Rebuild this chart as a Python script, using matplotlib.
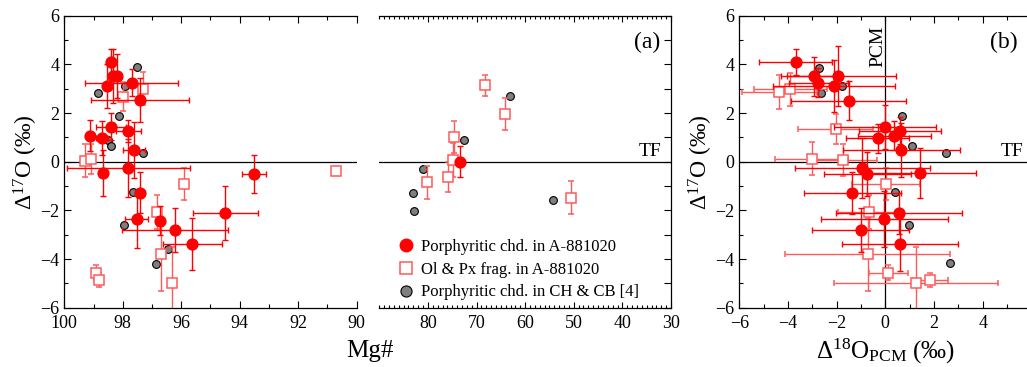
import numpy as np
import matplotlib
matplotlib.use("Agg")
import matplotlib.pyplot as plt
from matplotlib.ticker import MultipleLocator, FixedLocator, NullFormatter
from matplotlib.lines import Line2D

plt.rcParams['font.family'] = ['Liberation Serif', 'DejaVu Serif']
plt.rcParams['mathtext.fontset'] = 'custom'
plt.rcParams['mathtext.rm'] = 'Liberation Serif'
plt.rcParams['mathtext.it'] = 'Liberation Serif:italic'
plt.rcParams['axes.unicode_minus'] = True

# ---- panel (a): Mg# vs D17O ----
# porphyritic chondrules in A-881020
red_mg = [98.40, 98.32, 98.20, 98.53, 97.70, 97.41, 98.40, 99.12, 98.70, 97.81, 97.61,
          98.69, 97.81, 97.40, 97.53, 96.72, 96.21, 95.62, 94.50, 93.51, 73.4]
red_mg_err = [0.12, 0.15, 0.15, 0.12, 1.60, 1.69, 0.50, 0.10, 0.20, 0.42, 0.38,
              0.10, 2.10, 0.10, 0.40, 0.10, 1.81, 1.00, 1.11, 0.41, 0.0]
red_d17 = [4.10, 3.52, 3.52, 3.11, 3.25, 2.53, 1.44, 1.07, 0.96, 1.26, 0.48,
           -0.45, -0.27, -1.27, -2.36, -2.42, -2.81, -3.40, -2.10, -0.52, 0.0]
red_d17_err = [0.53, 1.10, 0.90, 0.90, 0.55, 0.90, 0.55, 0.63, 0.70, 0.45, 1.15,
               0.95, 1.20, 0.85, 1.20, 0.60, 0.90, 1.07, 1.12, 0.78, 0.64]

# Ol & Px fragments in A-881020
sq_mg = [99.29, 99.07, 98.00, 97.30, 95.91, 96.82, 96.70, 96.31, 98.91, 98.80, 90.71,
         68.2, 64.1, 74.7, 74.9, 75.9, 80.1, 50.6]
sq_d17 = [0.04, 0.11, 2.67, 2.99, -0.92, -2.07, -3.81, -5.00, -4.56, -4.86, -0.40,
          3.15, 1.95, 1.03, 0.07, -0.63, -0.84, -1.48]
sq_d17_err = [0.67, 0.60, 0.60, 0.68, 0.65, 0.70, 1.50, 1.50, 0.30, 0.30, 0.0,
              0.43, 0.65, 0.66, 0.70, 0.62, 0.68, 0.68]

# porphyritic chondrules in CH & CB [4]
gray_mg = [98.86, 97.53, 97.92, 98.12, 98.52, 98.40, 97.30, 97.66, 97.96, 96.47, 96.86,
           63.1, 72.5, 81.0, 83.0, 82.8, 54.2]
gray_d17 = [2.84, 3.88, 3.12, 1.88, 0.89, 0.66, 0.34, -1.25, -2.60, -3.59, -4.20,
            2.69, 0.89, -0.30, -1.30, -2.04, -1.58]

# ---- panel (b): D18O_PCM vs D17O ----
red_d18 = [-3.67, -2.93, -1.93, -2.75, -2.11, -1.51, 0.00, -0.32, 0.36, 0.60, 0.66,
           -0.94, -0.74, 1.41, -1.36, 0.57, -0.04, -1.01, 0.60]
red_d18_err = [1.50, 1.10, 2.36, 1.20, 2.50, 2.36, 2.10, 1.30, 1.50, 1.70, 2.40,
               2.77, 1.78, 2.30, 2.00, 2.60, 2.60, 2.00, 2.40]
red_d17b = [4.10, 3.52, 3.52, 3.25, 3.11, 2.51, 1.44, 0.96, 1.07, 1.27, 0.48,
            -0.27, -0.51, -0.45, -1.27, -2.12, -2.36, -2.81, -3.40]
red_d17b_err = [0.53, 0.80, 1.23, 0.60, 1.05, 0.80, 0.90, 0.60, 0.60, 0.55, 1.10,
                1.23, 0.90, 1.03, 0.86, 0.85, 1.15, 0.90, 1.10]

sq_d18 = [-4.35, -3.91, -2.04, -3.02, -1.75, 0.04, -0.66, -0.73, 0.12, 1.27, 1.85]
sq_d18_err = [1.55, 1.50, 1.54, 1.50, 1.40, 1.40, 1.30, 3.40, 0.80, 3.36, 0.72]
sq_d17b = [2.88, 2.97, 1.34, 0.12, 0.07, -0.92, -2.07, -3.81, -4.56, -5.00, -4.86]
sq_d17b_err = [0.70, 0.68, 0.60, 0.67, 0.65, 0.65, 0.70, 1.50, 0.30, 1.50, 0.30]

gray_d18 = [-2.74, -1.79, -2.64, 0.67, 1.09, 2.50, 0.39, 0.99, 2.67]
gray_d17b = [3.86, 3.12, 2.84, 1.88, 0.66, 0.34, -1.23, -2.60, -4.18]

labels = ['Porphyritic chd. in A-881020', 'Ol & Px frag. in A-881020',
          'Porphyritic chd. in CH & CB [4]']

W, H = 1027, 367
fig = plt.figure(figsize=(W / 100, H / 100), dpi=100)

def box(x0, x1):
    return [x0 / W, 1 - 307.7 / H, (x1 - x0) / W, 292 / H]

axL = fig.add_axes(box(64.3, 356.7))
axM = fig.add_axes(box(379.3, 671))
axR = fig.add_axes(box(739.3, 1031.3))

red = '#ff0000'
pink = '#ff5a5a'


def draw(ax, gx, gy, sx, sy, sxe, sye, rx, ry, rxe, rye, keep=None):
    # keep: optional test on x, to leave out points of the other half of a broken axis
    def sel(*cols):
        x = np.asarray(cols[0], float)
        m = np.ones(len(x), bool) if keep is None else keep(x)
        return [np.asarray(c, float)[m] for c in cols]
    gx, gy = sel(gx, gy)
    sx, sy, sxe, sye = sel(sx, sy, sxe, sye)
    rx, ry, rxe, rye = sel(rx, ry, rxe, rye)
    ax.axhline(0, color='black', lw=0.9, zorder=1)
    ax.plot(gx, gy, 'o', ms=5.6, mfc='#7f7f7f', mec='black', mew=0.8, zorder=2)
    ax.errorbar(sx, sy, xerr=sxe, yerr=sye, fmt='s', ms=6.8, mfc='white', mec=pink,
                mew=1.1, ecolor=pink, elinewidth=1, capsize=2, capthick=1, zorder=3)
    ax.errorbar(rx, ry, xerr=rxe, yerr=rye, fmt='o', ms=7.8, mfc=red, mec=red,
                ecolor=red, elinewidth=1, capsize=2, capthick=1, zorder=4)
    ax.set_ylim(-6, 6)
    ax.tick_params(which='both', direction='in', labelsize=13, width=0.8)
    ax.tick_params(axis='x', which='both', pad=5)
    ax.tick_params(which='major', length=5)
    ax.tick_params(which='minor', length=3)
    for s in ax.spines.values():
        s.set_linewidth(0.9)


zeros = [0.0] * len(sq_mg)
draw(axL, gray_mg, gray_d17, sq_mg, sq_d17, zeros, sq_d17_err,
     red_mg, red_d17, red_mg_err, red_d17_err)
draw(axM, gray_mg, gray_d17, sq_mg, sq_d17, zeros, sq_d17_err,
     red_mg, red_d17, red_mg_err, red_d17_err, keep=lambda x: x < 89)

# left part of broken axis
axL.set_xlim(100, 90)
axL.spines['right'].set_visible(False)
axL.xaxis.set_major_locator(MultipleLocator(2))
axL.xaxis.set_minor_locator(MultipleLocator(1))
axL.yaxis.set_major_locator(MultipleLocator(2))
axL.yaxis.set_minor_locator(MultipleLocator(1))
axL.tick_params(which='both', top=True, right=False)
axL.set_ylabel('Δ$^{\\mathrm{17}}$O (‰)', fontsize=17, labelpad=0)

# right part of broken axis
axM.set_xlim(90, 30)
axM.spines['left'].set_visible(False)
axM.xaxis.set_major_locator(FixedLocator([80, 70, 60, 50, 40, 30]))
axM.xaxis.set_minor_locator(MultipleLocator(1))
axM.yaxis.set_major_locator(MultipleLocator(1))
axM.yaxis.set_minor_locator(MultipleLocator(1))
axM.yaxis.set_major_formatter(NullFormatter())
axM.tick_params(which='both', top=True, left=False, right=True)
axM.tick_params(axis='x', which='major', length=4)
axM.tick_params(axis='x', which='minor', length=2.5)
axM.text(32.3, 4.9, '(a)', fontsize=17, ha='right', va='center')
axM.text(31.9, 0.08, 'TF', fontsize=14, ha='right', va='bottom')

handles = [Line2D([], [], ls='none', marker='o', ms=9, mfc=red, mec=red),
           Line2D([], [], ls='none', marker='s', ms=8, mfc='white', mec=pink, mew=1.1),
           Line2D([], [], ls='none', marker='o', ms=8, mfc='#7f7f7f', mec='black', mew=0.8)]
axM.legend(handles, labels, loc='lower left', bbox_to_anchor=(0.03, -0.015), frameon=False,
           fontsize=12, handlelength=0.8, handletextpad=0.5, labelspacing=0.41,
           borderaxespad=0.3)

fig.text(370 / W, 1 - 351 / H, 'Mg#', fontsize=18, ha='center', va='center')

# panel (b)
draw(axR, gray_d18, gray_d17b, sq_d18, sq_d17b, sq_d18_err, sq_d17b_err,
     red_d18, red_d17b, red_d18_err, red_d17b_err)
axR.axvline(0, color='black', lw=0.9, zorder=1)
axR.set_xlim(-6, 6)
axR.xaxis.set_major_locator(FixedLocator([-6, -4, -2, 0, 2, 4]))
axR.xaxis.set_minor_locator(MultipleLocator(1))
axR.yaxis.set_major_locator(MultipleLocator(2))
axR.yaxis.set_minor_locator(MultipleLocator(1))
axR.tick_params(which='both', top=True, right=False)
axR.set_ylabel('Δ$^{\\mathrm{17}}$O (‰)', fontsize=17, labelpad=0)
axR.set_xlabel('Δ$^{\\mathrm{18}}$O$_{\\mathrm{PCM}}$ (‰)', fontsize=18, labelpad=4)
axR.text(5.45, 4.9, '(b)', fontsize=17, ha='right', va='center')
axR.text(5.67, 0.08, 'TF', fontsize=14, ha='right', va='bottom')
axR.text(-0.3, 5.6, 'PCM', fontsize=14, rotation=90, ha='center', va='top')

fig.savefig('out.png', dpi=100)
